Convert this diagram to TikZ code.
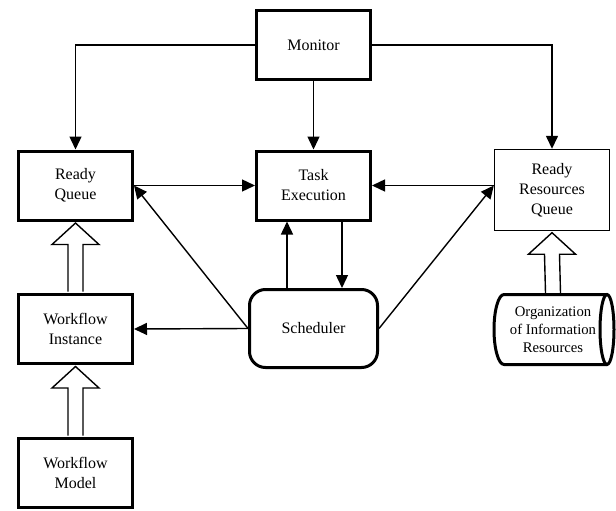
\documentclass[tikz,border=0pt]{standalone}
\usepackage{fontspec}
\setmainfont{Liberation Serif}
\newfontfamily\tnrfont{Liberation Serif}
\usetikzlibrary{arrows.meta,calc}
\begin{document}
\begin{tikzpicture}[x=1pt,y=-1pt,
  every node/.style={font=\tnrfont\fontsize{16}{20}\selectfont, align=center, inner sep=0pt},
  box/.style={draw, line width=3pt, minimum width=114pt, minimum height=69pt},
  thinbox/.style={draw, line width=1.4pt, minimum width=115pt, minimum height=81pt},
  arr/.style={line width=1.4pt, -{Triangle[length=13pt,width=12pt]}},
  blk/.style={line width=1.4pt, fill=white, line join=miter}]
\useasboundingbox (0,0) rectangle (616,511);

\node[box] (mon) at (313.5,45) {Monitor};
\node[box] (rq) at (75.5,185.5) {Ready\\Queue};
\node[box] (te) at (313.5,185.5) {Task\\Execution};
\node[thinbox] (rrq) at (552,190) {Ready\\Resources\\Queue};
\node[box] (wi) at (75.5,329) {Workflow\\Instance};
\node[box] (wm) at (75.5,473) {Workflow\\Model};
\node[draw, line width=3pt, rounded corners=16pt, minimum width=128pt, minimum height=78pt] (sch) at (313.5,328.5) {Scheduler};
\node[minimum width=119pt, minimum height=70pt, font=\tnrfont\fontsize{14.7}{18}\selectfont] (org) at (553,329.5) {Organization\\of Information\\Resources};

% cylinder outline
\draw[line width=3pt, line join=round] (607,294.5) -- (504,294.5) arc[start angle=270, end angle=90, x radius=10, y radius=35] -- (607,364.5);
\draw[line width=3pt] (607,329.5) ellipse[x radius=7, y radius=35];

% block arrows
\newcommand\blockarrow[2]{%
  \draw[blk] ($(#1.north)+(-7.5,-1.5)$) -- ($(#2.south)+(-7.5,23)$) -- ($(#2.south)+(-23.5,23)$) -- ($(#2.south)+(0,1.5)$) -- ($(#2.south)+(23.5,23)$) -- ($(#2.south)+(7.5,23)$) -- ($(#1.north)+(7.5,-1.5)$);}
\blockarrow{wi}{rq}
\blockarrow{wm}{wi}
\blockarrow{org}{rrq}

% connectors
\draw[arr] (mon.west) -| (rq.north);
\draw[arr] (mon.south) -- (te.north);
\draw[arr] (mon.east) -| (rrq.north);
\draw[arr] (rq.east) -- (te.west);
\coordinate (rrqin) at (rrq.west |- te.east);
\draw[arr] (rrqin) -- (te.east);
\draw[arr] (sch.west) -- (rq.east);
\draw[arr] (sch.west) -- (wi.east);
\draw[arr] (sch.north -| 287,0) -- (te.south -| 287,0);
\draw[arr] (te.south -| 342,0) -- (sch.north -| 342,0);
\draw[arr] (sch.east) -- (rrqin);
\end{tikzpicture}
\end{document}
